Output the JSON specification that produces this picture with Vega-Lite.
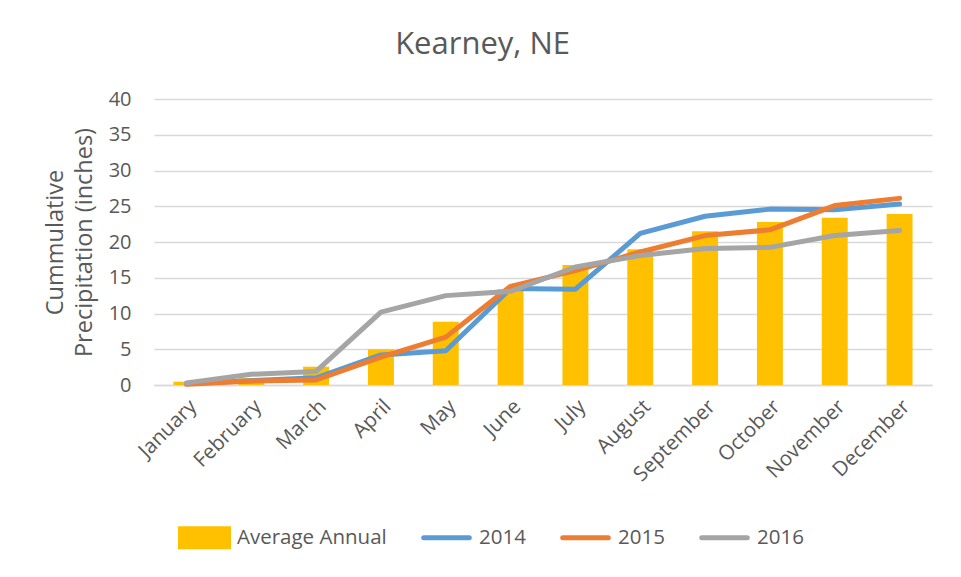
{
  "$schema": "https://vega.github.io/schema/vega-lite/v6.json",
  "width": 778,
  "height": 286,
  "padding": {"left": 43, "top": 29, "right": 22, "bottom": 8},
  "background": "white",
  "title": {"text": "Kearney, NE", "font": "Open Sans", "fontSize": 31, "fontWeight": "normal", "color": "#595959", "anchor": "middle", "frame": "bounds", "offset": 28, "dx": -5},
  "config": {
    "view": {"stroke": null},
    "font": "Open Sans"
  },
  "data": {"values": [
    {"month": "January", "series": "Average Annual", "value": 0.46},
    {"month": "February", "series": "Average Annual", "value": 0.95},
    {"month": "March", "series": "Average Annual", "value": 2.56},
    {"month": "April", "series": "Average Annual", "value": 5.0},
    {"month": "May", "series": "Average Annual", "value": 8.85},
    {"month": "June", "series": "Average Annual", "value": 13.4},
    {"month": "July", "series": "Average Annual", "value": 16.8},
    {"month": "August", "series": "Average Annual", "value": 19.0},
    {"month": "September", "series": "Average Annual", "value": 21.5},
    {"month": "October", "series": "Average Annual", "value": 22.8},
    {"month": "November", "series": "Average Annual", "value": 23.4},
    {"month": "December", "series": "Average Annual", "value": 23.9},
    {"month": "January", "series": "2014", "value": 0.2},
    {"month": "February", "series": "2014", "value": 0.6},
    {"month": "March", "series": "2014", "value": 1.0},
    {"month": "April", "series": "2014", "value": 4.2},
    {"month": "May", "series": "2014", "value": 4.8},
    {"month": "June", "series": "2014", "value": 13.5},
    {"month": "July", "series": "2014", "value": 13.4},
    {"month": "August", "series": "2014", "value": 21.2},
    {"month": "September", "series": "2014", "value": 23.6},
    {"month": "October", "series": "2014", "value": 24.6},
    {"month": "November", "series": "2014", "value": 24.5},
    {"month": "December", "series": "2014", "value": 25.3},
    {"month": "January", "series": "2015", "value": 0.1},
    {"month": "February", "series": "2015", "value": 0.55},
    {"month": "March", "series": "2015", "value": 0.7},
    {"month": "April", "series": "2015", "value": 3.9},
    {"month": "May", "series": "2015", "value": 6.7},
    {"month": "June", "series": "2015", "value": 13.8},
    {"month": "July", "series": "2015", "value": 16.0},
    {"month": "August", "series": "2015", "value": 18.6},
    {"month": "September", "series": "2015", "value": 20.9},
    {"month": "October", "series": "2015", "value": 21.7},
    {"month": "November", "series": "2015", "value": 25.1},
    {"month": "December", "series": "2015", "value": 26.1},
    {"month": "January", "series": "2016", "value": 0.3},
    {"month": "February", "series": "2016", "value": 1.5},
    {"month": "March", "series": "2016", "value": 1.9},
    {"month": "April", "series": "2016", "value": 10.2},
    {"month": "May", "series": "2016", "value": 12.5},
    {"month": "June", "series": "2016", "value": 13.1},
    {"month": "July", "series": "2016", "value": 16.5},
    {"month": "August", "series": "2016", "value": 18.1},
    {"month": "September", "series": "2016", "value": 19.1},
    {"month": "October", "series": "2016", "value": 19.25},
    {"month": "November", "series": "2016", "value": 20.9},
    {"month": "December", "series": "2016", "value": 21.6}
  ]},
  "encoding": {
    "x": {
      "field": "month", "type": "ordinal",
      "sort": ["January","February","March","April","May","June","July","August","September","October","November","December"],
      "scale": {"paddingInner": 0.6, "paddingOuter": 0.3},
      "axis": {"title": null, "labelAngle": -45, "labelFont": "Open Sans", "labelFontSize": 20.5, "labelColor": "#595959", "ticks": false, "domain": true, "domainColor": "#D9D9D9", "domainWidth": 1.3, "labelPadding": 11}
    },
    "y": {
      "field": "value", "type": "quantitative",
      "scale": {"domain": [0, 40], "nice": false},
      "axis": {"title": ["Cummulative", "Precipitation (inches)"], "titleFont": "Open Sans", "titleFontSize": 23.5, "titleFontWeight": "normal", "titleColor": "#595959", "titlePadding": 12, "titleLineHeight": 29,
        "values": [0,5,10,15,20,25,30,35,40], "labelFont": "Open Sans", "labelFontSize": 20, "labelColor": "#595959", "ticks": false, "domain": false, "labelPadding": 23, "grid": true, "gridColor": "#D9D9D9", "gridWidth": 1.3}
    },
    "color": {
      "field": "series", "type": "nominal",
      "scale": {"domain": ["Average Annual","2014","2015","2016"], "range": ["#FFC000","#5B9BD5","#ED7D31","#A5A5A5"]},
      "legend": {
        "orient": "bottom", "direction": "horizontal", "title": null,
        "symbolSize": 2304, "labelFont": "Open Sans", "labelFontSize": 20.5, "labelColor": "#595959",
        "columnPadding": 25, "labelOffset": 6, "offset": 1, "padding": 24,
        "encode": {"symbols": {"update": {
          "shape": [{"test": "datum.value === 'Average Annual'", "value": "M-1,-0.375H1V0.375H-1Z"}, {"value": "M-1,-0.375M-0.95,0H0.95M1,0.375"}],
          "fill": [{"test": "datum.value === 'Average Annual'", "scale": "color", "field": "value"}, {"value": "transparent"}],
          "stroke": [{"test": "datum.value === 'Average Annual'", "value": "transparent"}, {"scale": "color", "field": "value"}],
          "strokeWidth": {"value": 5},
          "strokeCap": {"value": "round"},
          "opacity": {"value": 1}
        }}}
      }
    }
  },
  "layer": [
    {"transform": [{"filter": "datum.series === 'Average Annual'"}], "mark": {"type": "bar", "opacity": 1}},
    {"transform": [{"filter": "datum.series !== 'Average Annual'"}], "mark": {"type": "line", "strokeWidth": 5, "strokeCap": "round", "strokeJoin": "round"},
     "encoding": {"order": {"field": "series"}}}
  ]
}
